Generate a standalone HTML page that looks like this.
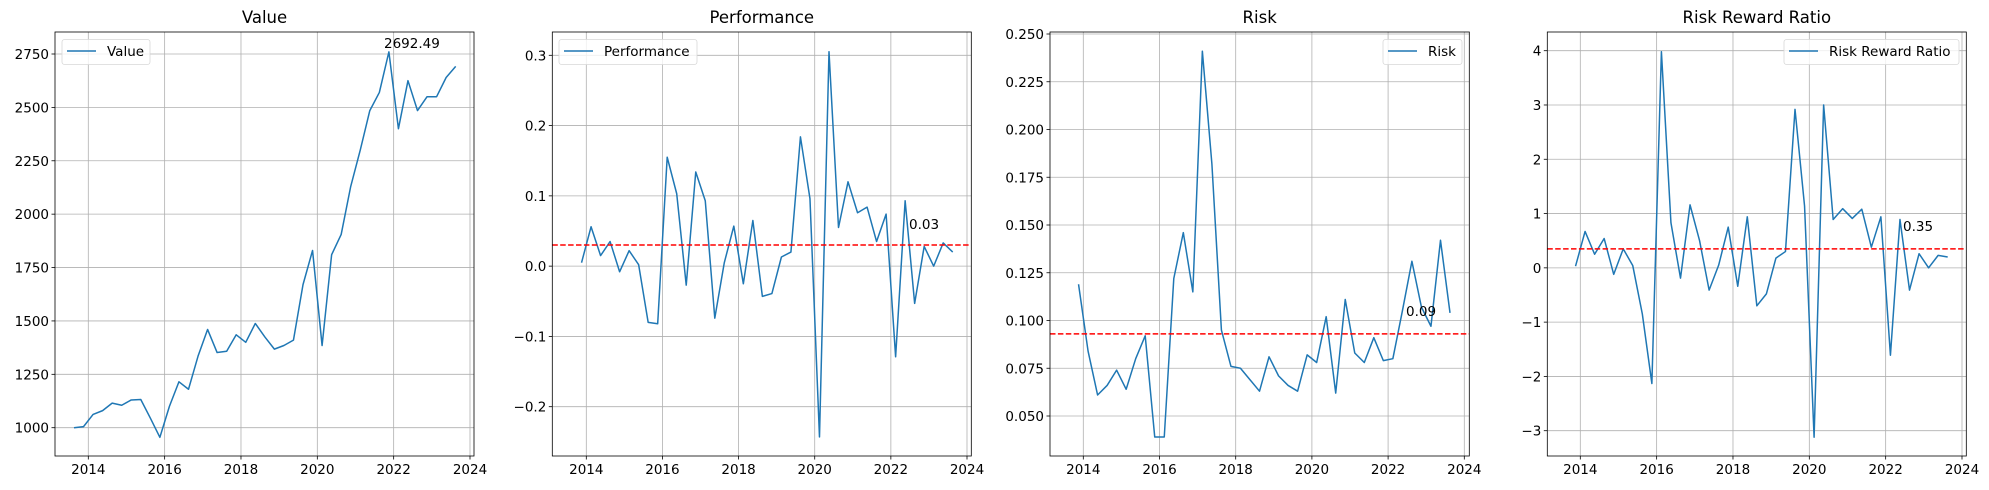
<!DOCTYPE html>
<html><head><meta charset="utf-8">
<style>
body{margin:0;background:#fff;}
svg{display:block;font-family:"DejaVu Sans","Liberation Sans",sans-serif;}
</style></head>
<body>
<svg id="chart" width="1989" height="490" xmlns="http://www.w3.org/2000/svg"></svg>
<script>
const valueSeries=[1000,1005,1062,1080,1115,1105,1130,1132,1045,955,1100,1215,1180,1335,1460,1352,1358,1435,1400,1488,1425,1368,1385,1410,1670,1830,1385,1810,1905,2130,2300,2485,2570,2760,2400,2625,2485,2550,2550,2640,2692];
const perfSeries=[0.005,0.056,0.015,0.035,-0.008,0.022,0.002,-0.080,-0.082,0.155,0.103,-0.027,0.134,0.093,-0.074,0.005,0.057,-0.025,0.065,-0.043,-0.039,0.013,0.020,0.184,0.096,-0.243,0.305,0.055,0.120,0.076,0.084,0.035,0.074,-0.129,0.093,-0.053,0.028,0.000,0.033,0.020];
const riskSeries=[0.119,0.084,0.061,0.066,0.074,0.064,0.080,0.092,0.039,0.039,0.122,0.146,0.115,0.241,0.182,0.095,0.076,0.075,0.069,0.063,0.081,0.071,0.066,0.063,0.082,0.078,0.102,0.062,0.111,0.083,0.078,0.091,0.079,0.080,0.105,0.131,0.107,0.097,0.142,0.104];
const ratioSeries=[0.03,0.67,0.25,0.54,-0.12,0.35,0.04,-0.85,-2.13,3.98,0.83,-0.19,1.16,0.5,-0.41,0.05,0.75,-0.34,0.94,-0.70,-0.48,0.18,0.30,2.92,1.14,-3.12,3.0,0.89,1.09,0.91,1.08,0.38,0.94,-1.61,0.89,-0.41,0.26,0.00,0.23,0.20];
const valueStart=2013.625, derivedStart=2013.875, step=0.25;
const xTicks=[2014,2016,2018,2020,2022,2024];
const valueTicks=[1000,1250,1500,1750,2000,2250,2500,2750];
const perfTicks=[-0.2,-0.1,0.0,0.1,0.2,0.3];
const riskTicks=[0.050,0.075,0.100,0.125,0.150,0.175,0.200,0.225,0.250];
const ratioTicks=[-3,-2,-1,0,1,2,3,4];
const perfMean=0.03, riskMean=0.093, ratioMean=0.35;

const NS="http://www.w3.org/2000/svg";
const svg=document.getElementById('chart');
function mk(tag,attrs,parent){const e=document.createElementNS(NS,tag);for(const k in attrs)e.setAttribute(k,attrs[k]);(parent||svg).appendChild(e);return e;}

const panels=[
 {name:'value',title:'Value',label:'Value',data:valueSeries,start:valueStart,ticks:valueTicks,fmt:v=>String(v),
  ax:{l:55,r:474,t:32,b:456},xr:[88.3,470],yr:[{v:2750,p:54},{v:1000,p:427.7}],legend:{x:62,w:88,right:false},mean:null,ann:{text:'2692.49',x:384,y:48}},
 {name:'performance',title:'Performance',label:'Performance',data:perfSeries,start:derivedStart,ticks:perfTicks,fmt:v=>(v<0?'\u2212':'')+Math.abs(v).toFixed(1),
  ax:{l:552.3,r:971.3,t:32,b:456},xr:[586.3,967],yr:[{v:0.3,p:55.3},{v:-0.2,p:406.7}],legend:{x:559,w:138},mean:perfMean,ann:{text:'0.03',x:909,y:229}},
 {name:'risk',title:'Risk',label:'Risk',data:riskSeries,start:derivedStart,ticks:riskTicks,fmt:v=>v.toFixed(3),
  ax:{l:1050,r:1469.3,t:32,b:456},xr:[1083.3,1464.3],yr:[{v:0.25,p:34},{v:0.05,p:416}],legend:{x:1383,w:79},mean:riskMean,ann:{text:'0.09',x:1406,y:316}},
 {name:'risk-reward-ratio',title:'Risk Reward Ratio',label:'Risk Reward Ratio',data:ratioSeries,start:derivedStart,ticks:ratioTicks,fmt:v=>(v<0?'\u2212':'')+Math.abs(v),
  ax:{l:1547.3,r:1966.3,t:32,b:456},xr:[1580.3,1962],yr:[{v:4,p:50.7},{v:-3,p:430.7}],legend:{x:1784,w:175},mean:ratioMean,ann:{text:'0.35',x:1903,y:231}}
];

panels.forEach(P=>{
 const g=mk('g',{});
 
 
 const a=P.ax;
 const X=t=>P.xr[0]+(t-2014)*(P.xr[1]-P.xr[0])/10;
 const Y=v=>P.yr[0].p+(v-P.yr[0].v)*(P.yr[1].p-P.yr[0].p)/(P.yr[1].v-P.yr[0].v);
 // grid
 xTicks.forEach(t=>{
  const x=X(t);
  const gl=mk('line',{x1:x,x2:x,y1:a.t,y2:a.b,stroke:'#b0b0b0','stroke-width':0.8},g);
  
  
  mk('line',{x1:x,x2:x,y1:a.b,y2:a.b+3.5,stroke:'#000','stroke-width':0.8},g);
  const tx=mk('text',{x:x,y:a.b+18,'font-size':13.5,'text-anchor':'middle',fill:'#000'},g);
  tx.textContent=t;
  
  
 });
 P.ticks.forEach(v=>{
  const y=Y(v);
  const gl=mk('line',{x1:a.l,x2:a.r,y1:y,y2:y,stroke:'#b0b0b0','stroke-width':0.8},g);
  
  
  mk('line',{x1:a.l-3.5,x2:a.l,y1:y,y2:y,stroke:'#000','stroke-width':0.8},g);
  const tx=mk('text',{x:a.l-6,y:y+5,'font-size':13.5,'text-anchor':'end',fill:'#000'},g);
  tx.textContent=P.fmt(v);
  
  
 });
 // series
 const pts=P.data.map((v,i)=>X(P.start+i*step).toFixed(2)+','+Y(v).toFixed(2)).join(' ');
 const line=mk('polyline',{points:pts,fill:'none',stroke:'#1f77b4','stroke-width':1.5,'stroke-linejoin':'round'},g);
 
 
 if(P.mean!==null){
  const ml=mk('line',{x1:a.l,x2:a.r,y1:Y(P.mean),y2:Y(P.mean),stroke:'#ff0000','stroke-width':1.5,'stroke-dasharray':'5.5,2.4'},g);
  
  
 }
 const an=mk('text',{x:P.ann.x,y:P.ann.y,'font-size':13.5,fill:'#000'},g);
 an.textContent=P.ann.text;
 
 
 // frame
 const fr=mk('rect',{x:a.l,y:a.t,width:a.r-a.l,height:a.b-a.t,fill:'none',stroke:'#000','stroke-width':0.8},g);
 
 
 // title
 const ti=mk('text',{x:(a.l+a.r)/2,y:23,'font-size':16.5,'text-anchor':'middle',fill:'#000'},g);
 ti.textContent=P.title;
 
 
 // legend
 const L=P.legend;
 const lg=mk('g',{},g);
 
 
 mk('rect',{x:L.x,y:39.5,width:L.w,height:25,rx:2.5,fill:'#fff','fill-opacity':0.8,stroke:'#d8d8d8','stroke-width':0.8},lg);
 mk('line',{x1:L.x+5,x2:L.x+34,y1:51,y2:51,stroke:'#1f77b4','stroke-width':1.5},lg);
 const lt=mk('text',{x:L.x+45,y:56,'font-size':13.5,fill:'#000'},lg);
 lt.textContent=P.label;
 
 
});
</script>
</body></html>
